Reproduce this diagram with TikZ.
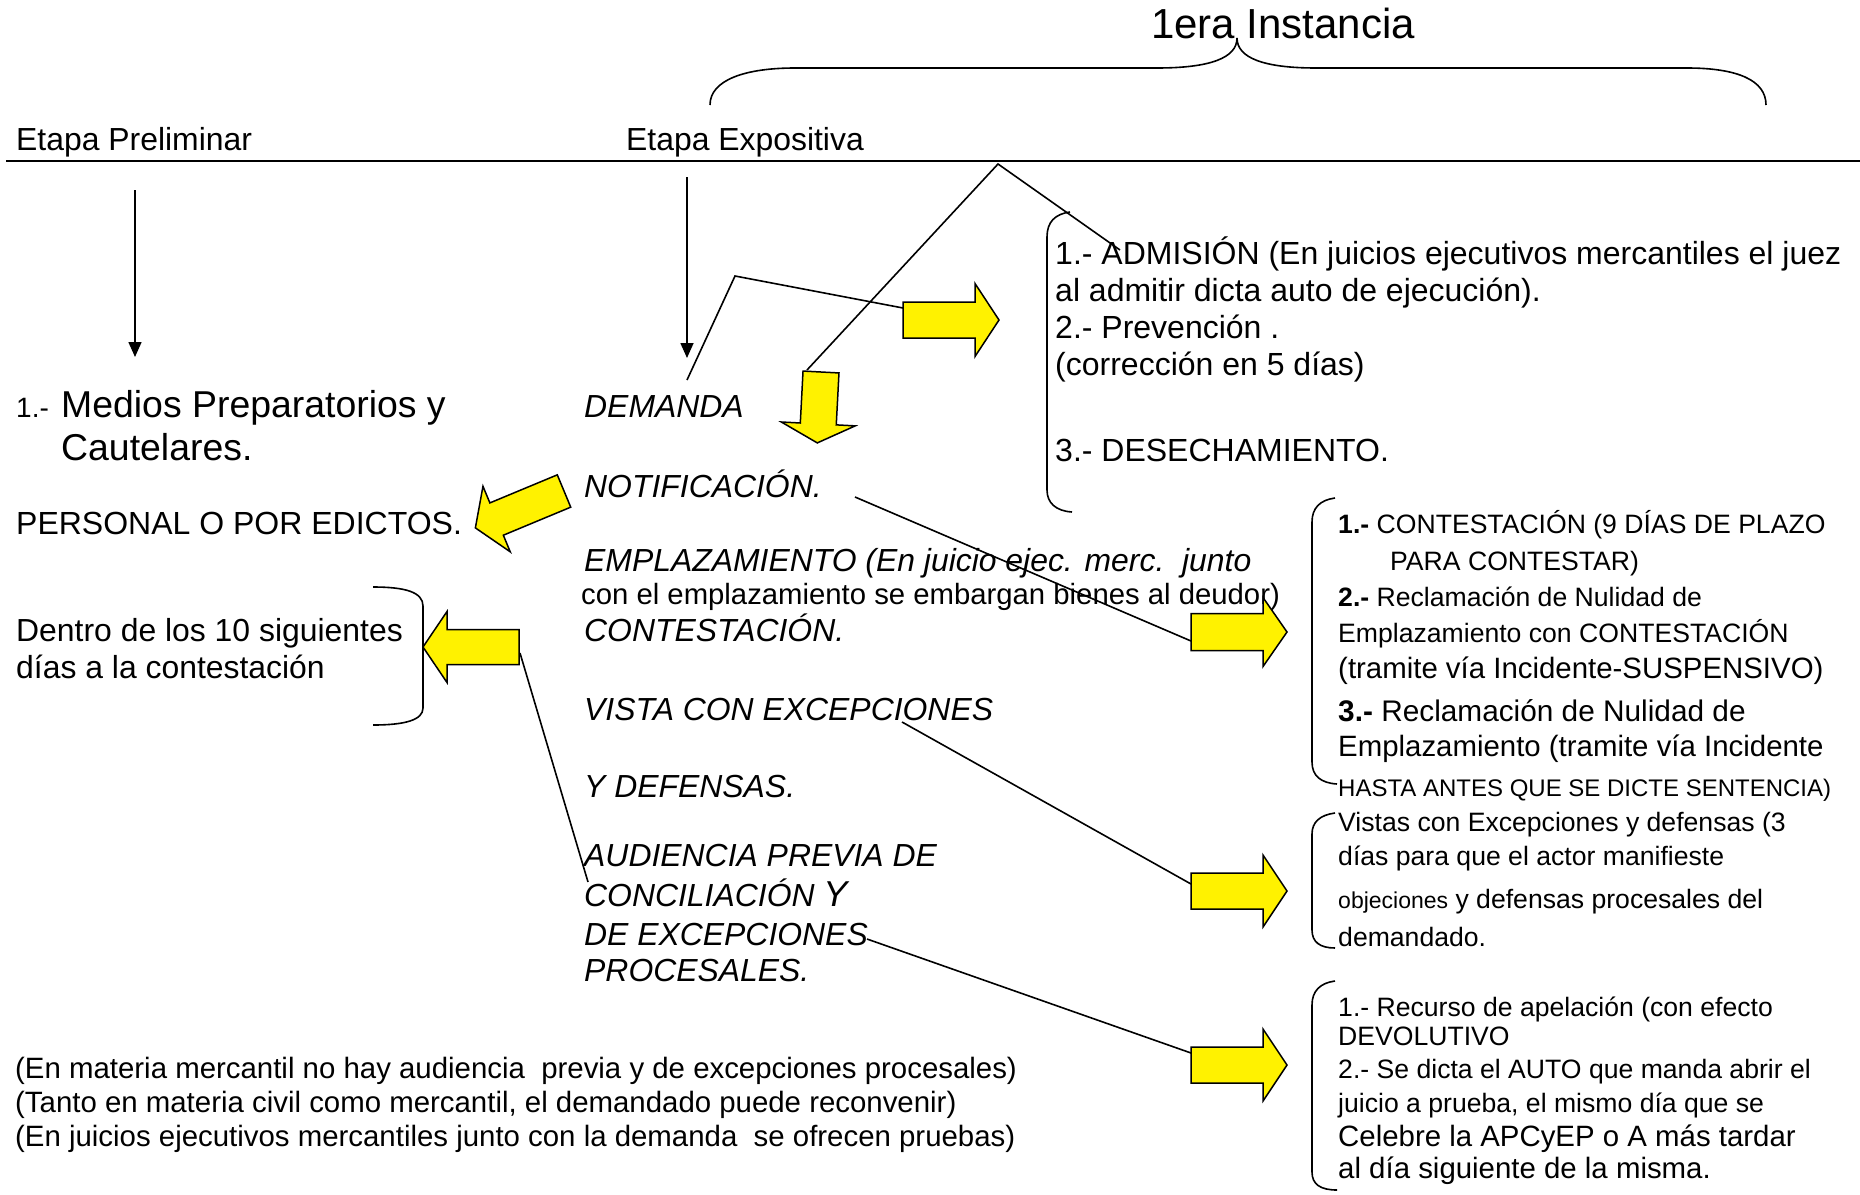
\documentclass[tikz,border=0pt]{standalone}
\usepackage{fontspec}
\setmainfont{Liberation Sans}
\usetikzlibrary{arrows.meta}
\newcommand{\fsz}[1]{\fontsize{#1}{#1}\selectfont}
% name, x, y, angle, length, shaft half-width, head half-width, head length
\newcommand{\yarrow}[8]{%
  \begin{scope}[shift={(#2,#3)},rotate=#4]
    \draw[yarr] (0,-#6) -- ({#5-#8},-#6) -- ({#5-#8},-#7) -- (#5,0) -- ({#5-#8},#7) -- ({#5-#8},#6) -- (0,#6) -- cycle;
    \coordinate (#1) at (0,0);
  \end{scope}}
\begin{document}
\begin{tikzpicture}[x=1pt,y=-1pt,
  yarr/.style={draw=black,line width=1.5pt,fill=yellow,line join=miter},
  conn/.style={draw=black,line width=1.6pt},
  brk/.style={draw=black,line width=1.6pt},
  txt/.style={anchor=base west,inner sep=0pt,font=\fsz{31.9}},
  itx/.style={txt,font=\fsz{31.9}\itshape},
  rtx/.style={anchor=base west,inner sep=0pt,font=\fsz{26.6}},
  rtb/.style={anchor=base west,inner sep=0pt,font=\fsz{29.4}},
  vline/.style={draw=black,line width=1.6pt,-{Triangle[length=15pt,width=13pt]}}]
\useasboundingbox (0,0) rectangle (1860,1194);
\fill[white] (0,0) rectangle (1860,1194);

% title and brace
\node[anchor=base west,inner sep=0pt,font=\fsz{42}] (title) at (1151,38) {1era Instancia};
\draw[brk] (710,105) .. controls (710,80) and (745,68) .. (795,68) -- (1157,68)
  .. controls (1210,68) and (1237,58) .. (1237,38)
  .. controls (1237,58) and (1264,68) .. (1316,68) -- (1687,68)
  .. controls (1737,68) and (1766,80) .. (1766,105);

% header line
\coordinate (hl) at (6,161);
\coordinate (hr) at (1860,161);
\draw[line width=2pt] (hl) -- (hr);
\node[txt] (etapa1) at (16,150) {Etapa Preliminar};
\node[txt] (etapa2) at (626,150) {Etapa Expositiva};

% vertical arrows
\coordinate (v1a) at (135,190); \coordinate (v1b) at (135,357);
\coordinate (v2a) at (687,177); \coordinate (v2b) at (687,358);
\draw[vline] (v1a) -- (v1b);
\draw[vline] (v2a) -- (v2b);

% left column
\node[anchor=base west,inner sep=0pt,font=\fsz{28}] (n1) at (16,417) {1.-};
\node[anchor=base west,inner sep=0pt,font=\fsz{37.4}] (medios) at (61,417) {Medios Preparatorios y};
\node[anchor=base west,inner sep=0pt,font=\fsz{37.4}] (caut) at (61,460) {Cautelares.};
\node[txt,font=\fsz{32}] (personal) at (16,534) {PERSONAL O POR EDICTOS.};
\node[txt] (dentro) at (16,641) {Dentro de los 10 siguientes};
\node[txt] (dias) at (16,678) {días a la contestación};
\draw[brk] (373,587) .. controls (405,587) and (423,592) .. (423,606) -- (423,708)
  .. controls (423,720) and (405,725) .. (373,725);

% middle column
\node[itx] (demanda) at (584,417) {DEMANDA};
\node[itx] (notif) at (584,497) {NOTIFICACIÓN.};
\node[itx] (empl) at (584,571) {EMPLAZAMIENTO (En juicio ejec. merc.\ \ junto};
\node[anchor=base west,inner sep=0pt,font=\fsz{29.3}] (conel) at (581,604) {con el emplazamiento se embargan bienes al deudor)};
\node[itx] (contest) at (584,641) {CONTESTACIÓN.};
\node[itx] (vista) at (584,720) {VISTA CON EXCEPCIONES};
\node[itx] (ydef) at (584,797) {Y DEFENSAS.};
\node[itx] (aud) at (584,866) {AUDIENCIA PREVIA DE};
\node[itx] (conc) at (584,906) {CONCILIACIÓN {\fsz{36}Y}};
\node[itx] (deexc) at (584,945) {DE EXCEPCIONES};
\node[itx] (proc) at (584,981) {PROCESALES.};

% yellow arrows
\yarrow{a1}{903}{320}{0}{96}{18}{36.5}{24}
\yarrow{a2}{821}{372}{-93}{71}{18}{37}{19}
\yarrow{a3}{564}{491}{202.6}{96}{17.5}{35.5}{23}
\yarrow{a4}{519}{647}{180}{96}{17.5}{35.5}{24}
\yarrow{a5}{1191}{632}{0}{96}{18.5}{34.5}{24}
\yarrow{a6}{1191}{891}{0}{96}{18}{36}{24}
\yarrow{a7}{1191}{1065}{0}{96}{18}{36}{24}

% connectors
\coordinate (l1a) at (807,370); \coordinate (apex) at (998,164); \coordinate (l1c) at (1120,250);
\draw[conn] (l1a) -- (apex) -- (l1c);
\coordinate (l2a) at (687,380); \coordinate (l2b) at (735,276); \coordinate (l2c) at (903,308);
\draw[conn] (l2a) -- (l2b) -- (l2c);
\coordinate (l3a) at (855,497); \coordinate (l3b) at (1191,641);
\draw[conn] (l3a) -- (l3b);
\coordinate (l4a) at (902,722); \coordinate (l4b) at (1191,884);
\draw[conn] (l4a) -- (l4b);
\coordinate (l5a) at (867,939); \coordinate (l5b) at (1191,1053);
\draw[conn] (l5a) -- (l5b);
\coordinate (l6a) at (520,653); \coordinate (l6b) at (588,882);
\draw[conn] (l6a) -- (l6b);

% right block 1
\draw[brk] (1070,212) .. controls (1055,214) and (1047,222) .. (1047,237) -- (1047,490)
  .. controls (1047,503) and (1056,511) .. (1072,512);
\node[txt,font=\fsz{32}] (b1a) at (1055,264) {1.- ADMISIÓN (En juicios ejecutivos mercantiles el juez};
\node[txt,font=\fsz{32}] (b1b) at (1055,301) {al admitir dicta auto de ejecución).};
\node[txt,font=\fsz{32}] (b1c) at (1055,338) {2.- Prevención .};
\node[txt,font=\fsz{32}] (b1d) at (1055,375) {(corrección en 5 días)};
\node[txt,font=\fsz{32}] (b1e) at (1055,461) {3.- DESECHAMIENTO.};

% right block 2
\draw[brk] (1335,498) .. controls (1320,500) and (1312,508) .. (1312,522) -- (1312,762)
  .. controls (1312,776) and (1321,783) .. (1337,784);
\node[rtx] (b2a) at (1338,533) {\textbf{1.-} CONTESTACIÓN (9 DÍAS DE PLAZO};
\node[rtx] (b2b) at (1390,570) {PARA CONTESTAR)};
\node[rtx] (b2c) at (1338,606) {\textbf{2.-} Reclamación de Nulidad de};
\node[rtx] (b2d) at (1338,642) {Emplazamiento con CONTESTACIÓN};
\node[rtb] (b2e) at (1338,678) {(tramite vía Incidente-SUSPENSIVO)};
\node[rtb,font=\fsz{29.8}] (b2f) at (1338,721) {\textbf{3.-} Reclamación de Nulidad de};
\node[rtb] (b2g) at (1338,756) {Emplazamiento (tramite vía Incidente};
\node[anchor=base west,inner sep=0pt,font=\fsz{24}] (b2h) at (1338,796) {HASTA ANTES QUE SE DICTE SENTENCIA)};

% right block 3
\draw[brk] (1335,813) .. controls (1320,815) and (1312,822) .. (1312,834) -- (1312,930)
  .. controls (1312,942) and (1320,948) .. (1335,948);
\node[rtx] (b3a) at (1338,831) {Vistas con Excepciones y defensas (3};
\node[rtx] (b3b) at (1338,865) {días para que el actor manifieste};
\node[rtx] (b3c) at (1338,908) {{\fsz{23}objeciones} y defensas procesales del};
\node[rtx] (b3d) at (1338,946) {demandado.};

% right block 4
\draw[brk] (1335,981) .. controls (1320,983) and (1312,991) .. (1312,1005) -- (1312,1172)
  .. controls (1312,1184) and (1320,1190) .. (1337,1190);
\node[rtx] (b4a) at (1338,1016) {1.- Recurso de apelación (con efecto};
\node[rtx] (b4b) at (1338,1045) {DEVOLUTIVO};
\node[rtx] (b4c) at (1338,1078) {2.- Se dicta el AUTO que manda abrir el};
\node[rtx] (b4d) at (1338,1112) {juicio a prueba, el mismo día que se};
\node[rtb] (b4e) at (1338,1146) {Celebre la APCyEP o A más tardar};
\node[rtb] (b4f) at (1338,1178) {al día siguiente de la misma.};

% bottom notes
\node[rtb] (note1) at (15,1078) {(En materia mercantil no hay audiencia\ \ previa y de excepciones procesales)};
\node[rtb] (note2) at (15,1112) {(Tanto en materia civil como mercantil, el demandado puede reconvenir)};
\node[rtb] (note3) at (15,1146) {(En juicios ejecutivos mercantiles junto con la demanda\ \ se ofrecen pruebas)};
\end{tikzpicture}
\end{document}
